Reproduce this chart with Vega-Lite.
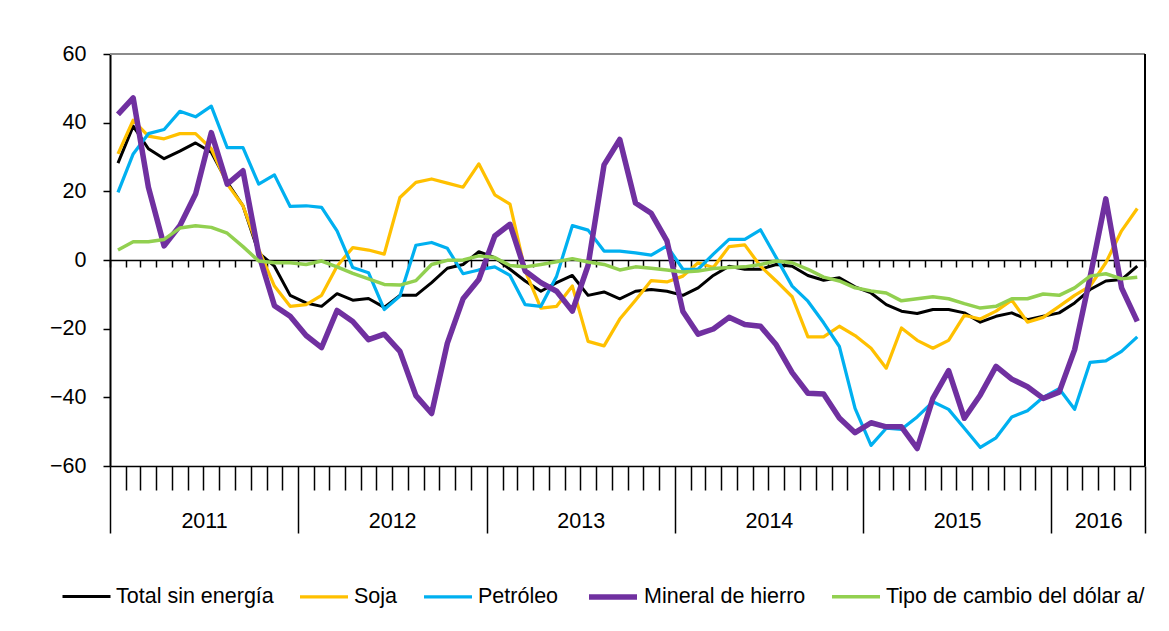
{
  "$schema": "https://vega.github.io/schema/vega-lite/v6.json",
  "width": 1035,
  "height": 412,
  "autosize": {"type": "none"},
  "padding": {"left": 110, "top": 54, "right": 24, "bottom": 165},
  "background": "white",
  "config": {
    "font": "Liberation Sans",
    "view": {"stroke": null},
    "axis": {"labelFont": "Liberation Sans", "labelFontSize": 21.5, "labelColor": "#000", "domainColor": "#000", "tickColor": "#000", "grid": false, "title": null}
  },
  "data": {
    "format": {"parse": {"fecha": "date:'%Y-%m'"}},
    "values": [
      {"fecha":"2011-01","serie":"Total sin energía","valor":28.2},{"fecha":"2011-02","serie":"Total sin energía","valor":39},{"fecha":"2011-03","serie":"Total sin energía","valor":32.4},{"fecha":"2011-04","serie":"Total sin energía","valor":29.5},{"fecha":"2011-05","serie":"Total sin energía","valor":31.7},{"fecha":"2011-06","serie":"Total sin energía","valor":34.1},{"fecha":"2011-07","serie":"Total sin energía","valor":31.4},{"fecha":"2011-08","serie":"Total sin energía","valor":22.6},{"fecha":"2011-09","serie":"Total sin energía","valor":15.8},{"fecha":"2011-10","serie":"Total sin energía","valor":2.1},{"fecha":"2011-11","serie":"Total sin energía","valor":-1.8},{"fecha":"2011-12","serie":"Total sin energía","valor":-10.3},
      {"fecha":"2012-01","serie":"Total sin energía","valor":-12.5},{"fecha":"2012-02","serie":"Total sin energía","valor":-13.5},{"fecha":"2012-03","serie":"Total sin energía","valor":-9.8},{"fecha":"2012-04","serie":"Total sin energía","valor":-11.7},{"fecha":"2012-05","serie":"Total sin energía","valor":-11.2},{"fecha":"2012-06","serie":"Total sin energía","valor":-13.8},{"fecha":"2012-07","serie":"Total sin energía","valor":-10.3},{"fecha":"2012-08","serie":"Total sin energía","valor":-10.3},{"fecha":"2012-09","serie":"Total sin energía","valor":-6.6},{"fecha":"2012-10","serie":"Total sin energía","valor":-2.4},{"fecha":"2012-11","serie":"Total sin energía","valor":-1.3},{"fecha":"2012-12","serie":"Total sin energía","valor":2.4},
      {"fecha":"2013-01","serie":"Total sin energía","valor":0.7},{"fecha":"2013-02","serie":"Total sin energía","valor":-2.7},{"fecha":"2013-03","serie":"Total sin energía","valor":-6.1},{"fecha":"2013-04","serie":"Total sin energía","valor":-9.1},{"fecha":"2013-05","serie":"Total sin energía","valor":-6.6},{"fecha":"2013-06","serie":"Total sin energía","valor":-4.5},{"fecha":"2013-07","serie":"Total sin energía","valor":-10.3},{"fecha":"2013-08","serie":"Total sin energía","valor":-9.3},{"fecha":"2013-09","serie":"Total sin energía","valor":-11.3},{"fecha":"2013-10","serie":"Total sin energía","valor":-9.1},{"fecha":"2013-11","serie":"Total sin energía","valor":-8.6},{"fecha":"2013-12","serie":"Total sin energía","valor":-9.1},
      {"fecha":"2014-01","serie":"Total sin energía","valor":-10.3},{"fecha":"2014-02","serie":"Total sin energía","valor":-8.1},{"fecha":"2014-03","serie":"Total sin energía","valor":-4.5},{"fecha":"2014-04","serie":"Total sin energía","valor":-1.8},{"fecha":"2014-05","serie":"Total sin energía","valor":-2.7},{"fecha":"2014-06","serie":"Total sin energía","valor":-2.7},{"fecha":"2014-07","serie":"Total sin energía","valor":-1.3},{"fecha":"2014-08","serie":"Total sin energía","valor":-1.8},{"fecha":"2014-09","serie":"Total sin energía","valor":-4.5},{"fecha":"2014-10","serie":"Total sin energía","valor":-5.9},{"fecha":"2014-11","serie":"Total sin energía","valor":-5.2},{"fecha":"2014-12","serie":"Total sin energía","valor":-7.8},
      {"fecha":"2015-01","serie":"Total sin energía","valor":-9.6},{"fecha":"2015-02","serie":"Total sin energía","valor":-13},{"fecha":"2015-03","serie":"Total sin energía","valor":-14.9},{"fecha":"2015-04","serie":"Total sin energía","valor":-15.6},{"fecha":"2015-05","serie":"Total sin energía","valor":-14.4},{"fecha":"2015-06","serie":"Total sin energía","valor":-14.4},{"fecha":"2015-07","serie":"Total sin energía","valor":-15.4},{"fecha":"2015-08","serie":"Total sin energía","valor":-18.1},{"fecha":"2015-09","serie":"Total sin energía","valor":-16.4},{"fecha":"2015-10","serie":"Total sin energía","valor":-15.4},{"fecha":"2015-11","serie":"Total sin energía","valor":-17.4},{"fecha":"2015-12","serie":"Total sin energía","valor":-16.4},
      {"fecha":"2016-01","serie":"Total sin energía","valor":-15.4},{"fecha":"2016-02","serie":"Total sin energía","valor":-12.5},{"fecha":"2016-03","serie":"Total sin energía","valor":-8.6},{"fecha":"2016-04","serie":"Total sin energía","valor":-6.1},{"fecha":"2016-05","serie":"Total sin energía","valor":-5.7},{"fecha":"2016-06","serie":"Total sin energía","valor":-1.8},

      {"fecha":"2011-01","serie":"Soja","valor":30.9},{"fecha":"2011-02","serie":"Soja","valor":40.7},{"fecha":"2011-03","serie":"Soja","valor":36.1},{"fecha":"2011-04","serie":"Soja","valor":35.3},{"fecha":"2011-05","serie":"Soja","valor":36.8},{"fecha":"2011-06","serie":"Soja","valor":36.8},{"fecha":"2011-07","serie":"Soja","valor":32.4},{"fecha":"2011-08","serie":"Soja","valor":22.1},{"fecha":"2011-09","serie":"Soja","valor":15.8},{"fecha":"2011-10","serie":"Soja","valor":3.1},{"fecha":"2011-11","serie":"Soja","valor":-7.6},{"fecha":"2011-12","serie":"Soja","valor":-13.5},
      {"fecha":"2012-01","serie":"Soja","valor":-13},{"fecha":"2012-02","serie":"Soja","valor":-10.3},{"fecha":"2012-03","serie":"Soja","valor":-1.8},{"fecha":"2012-04","serie":"Soja","valor":3.6},{"fecha":"2012-05","serie":"Soja","valor":2.9},{"fecha":"2012-06","serie":"Soja","valor":1.7},{"fecha":"2012-07","serie":"Soja","valor":18.2},{"fecha":"2012-08","serie":"Soja","valor":22.6},{"fecha":"2012-09","serie":"Soja","valor":23.6},{"fecha":"2012-10","serie":"Soja","valor":22.4},{"fecha":"2012-11","serie":"Soja","valor":21.2},{"fecha":"2012-12","serie":"Soja","valor":28},
      {"fecha":"2013-01","serie":"Soja","valor":19},{"fecha":"2013-02","serie":"Soja","valor":16.3},{"fecha":"2013-03","serie":"Soja","valor":-3.2},{"fecha":"2013-04","serie":"Soja","valor":-14},{"fecha":"2013-05","serie":"Soja","valor":-13.5},{"fecha":"2013-06","serie":"Soja","valor":-7.6},{"fecha":"2013-07","serie":"Soja","valor":-23.7},{"fecha":"2013-08","serie":"Soja","valor":-25},{"fecha":"2013-09","serie":"Soja","valor":-17.2},{"fecha":"2013-10","serie":"Soja","valor":-11.7},{"fecha":"2013-11","serie":"Soja","valor":-6},{"fecha":"2013-12","serie":"Soja","valor":-6.4},
      {"fecha":"2014-01","serie":"Soja","valor":-4.7},{"fecha":"2014-02","serie":"Soja","valor":-0.8},{"fecha":"2014-03","serie":"Soja","valor":-2.2},{"fecha":"2014-04","serie":"Soja","valor":3.9},{"fecha":"2014-05","serie":"Soja","valor":4.4},{"fecha":"2014-06","serie":"Soja","valor":-1.8},{"fecha":"2014-07","serie":"Soja","valor":-6.1},{"fecha":"2014-08","serie":"Soja","valor":-10.7},{"fecha":"2014-09","serie":"Soja","valor":-22.4},{"fecha":"2014-10","serie":"Soja","valor":-22.4},{"fecha":"2014-11","serie":"Soja","valor":-19.3},{"fecha":"2014-12","serie":"Soja","valor":-22},
      {"fecha":"2015-01","serie":"Soja","valor":-25.7},{"fecha":"2015-02","serie":"Soja","valor":-31.5},{"fecha":"2015-03","serie":"Soja","valor":-19.8},{"fecha":"2015-04","serie":"Soja","valor":-23.4},{"fecha":"2015-05","serie":"Soja","valor":-25.7},{"fecha":"2015-06","serie":"Soja","valor":-23.4},{"fecha":"2015-07","serie":"Soja","valor":-16.1},{"fecha":"2015-08","serie":"Soja","valor":-17.2},{"fecha":"2015-09","serie":"Soja","valor":-14.9},{"fecha":"2015-10","serie":"Soja","valor":-11.7},{"fecha":"2015-11","serie":"Soja","valor":-18.1},{"fecha":"2015-12","serie":"Soja","valor":-16.7},
      {"fecha":"2016-01","serie":"Soja","valor":-13.5},{"fecha":"2016-02","serie":"Soja","valor":-10.3},{"fecha":"2016-03","serie":"Soja","valor":-7.6},{"fecha":"2016-04","serie":"Soja","valor":-0.8},{"fecha":"2016-05","serie":"Soja","valor":8.5},{"fecha":"2016-06","serie":"Soja","valor":15},

      {"fecha":"2011-01","serie":"Petróleo","valor":19.7},{"fecha":"2011-02","serie":"Petróleo","valor":30.9},{"fecha":"2011-03","serie":"Petróleo","valor":36.8},{"fecha":"2011-04","serie":"Petróleo","valor":38},{"fecha":"2011-05","serie":"Petróleo","valor":43.3},{"fecha":"2011-06","serie":"Petróleo","valor":41.7},{"fecha":"2011-07","serie":"Petróleo","valor":44.8},{"fecha":"2011-08","serie":"Petróleo","valor":32.7},{"fecha":"2011-09","serie":"Petróleo","valor":32.7},{"fecha":"2011-10","serie":"Petróleo","valor":22.1},{"fecha":"2011-11","serie":"Petróleo","valor":24.8},{"fecha":"2011-12","serie":"Petróleo","valor":15.6},
      {"fecha":"2012-01","serie":"Petróleo","valor":15.8},{"fecha":"2012-02","serie":"Petróleo","valor":15.3},{"fecha":"2012-03","serie":"Petróleo","valor":8.5},{"fecha":"2012-04","serie":"Petróleo","valor":-2.2},{"fecha":"2012-05","serie":"Petróleo","valor":-3.7},{"fecha":"2012-06","serie":"Petróleo","valor":-14.4},{"fecha":"2012-07","serie":"Petróleo","valor":-10.5},{"fecha":"2012-08","serie":"Petróleo","valor":4.3},{"fecha":"2012-09","serie":"Petróleo","valor":5.1},{"fecha":"2012-10","serie":"Petróleo","valor":3.4},{"fecha":"2012-11","serie":"Petróleo","valor":-4},{"fecha":"2012-12","serie":"Petróleo","valor":-2.9},
      {"fecha":"2013-01","serie":"Petróleo","valor":-2},{"fecha":"2013-02","serie":"Petróleo","valor":-4.5},{"fecha":"2013-03","serie":"Petróleo","valor":-13},{"fecha":"2013-04","serie":"Petróleo","valor":-13.5},{"fecha":"2013-05","serie":"Petróleo","valor":-4.7},{"fecha":"2013-06","serie":"Petróleo","valor":10},{"fecha":"2013-07","serie":"Petróleo","valor":8.7},{"fecha":"2013-08","serie":"Petróleo","valor":2.6},{"fecha":"2013-09","serie":"Petróleo","valor":2.6},{"fecha":"2013-10","serie":"Petróleo","valor":2.1},{"fecha":"2013-11","serie":"Petróleo","valor":1.4},{"fecha":"2013-12","serie":"Petróleo","valor":4.1},
      {"fecha":"2014-01","serie":"Petróleo","valor":-2.7},{"fecha":"2014-02","serie":"Petróleo","valor":-2.7},{"fecha":"2014-03","serie":"Petróleo","valor":1.7},{"fecha":"2014-04","serie":"Petróleo","valor":6},{"fecha":"2014-05","serie":"Petróleo","valor":6},{"fecha":"2014-06","serie":"Petróleo","valor":8.8},{"fecha":"2014-07","serie":"Petróleo","valor":0.7},{"fecha":"2014-08","serie":"Petróleo","valor":-7.6},{"fecha":"2014-09","serie":"Petróleo","valor":-12},{"fecha":"2014-10","serie":"Petróleo","valor":-18.3},{"fecha":"2014-11","serie":"Petróleo","valor":-25.2},{"fecha":"2014-12","serie":"Petróleo","valor":-43.2},
      {"fecha":"2015-01","serie":"Petróleo","valor":-54},{"fecha":"2015-02","serie":"Petróleo","valor":-49},{"fecha":"2015-03","serie":"Petróleo","valor":-49.3},{"fecha":"2015-04","serie":"Petróleo","valor":-45.7},{"fecha":"2015-05","serie":"Petróleo","valor":-41.3},{"fecha":"2015-06","serie":"Petróleo","valor":-43.5},{"fecha":"2015-07","serie":"Petróleo","valor":-49},{"fecha":"2015-08","serie":"Petróleo","valor":-54.6},{"fecha":"2015-09","serie":"Petróleo","valor":-51.8},{"fecha":"2015-10","serie":"Petróleo","valor":-45.7},{"fecha":"2015-11","serie":"Petróleo","valor":-43.9},{"fecha":"2015-12","serie":"Petróleo","valor":-40},
      {"fecha":"2016-01","serie":"Petróleo","valor":-37.5},{"fecha":"2016-02","serie":"Petróleo","valor":-43.5},{"fecha":"2016-03","serie":"Petróleo","valor":-29.8},{"fecha":"2016-04","serie":"Petróleo","valor":-29.4},{"fecha":"2016-05","serie":"Petróleo","valor":-26.6},{"fecha":"2016-06","serie":"Petróleo","valor":-22.4},

      {"fecha":"2011-01","serie":"Mineral de hierro","valor":42.4},{"fecha":"2011-02","serie":"Mineral de hierro","valor":47.2},{"fecha":"2011-03","serie":"Mineral de hierro","valor":21.2},{"fecha":"2011-04","serie":"Mineral de hierro","valor":4.1},{"fecha":"2011-05","serie":"Mineral de hierro","valor":10},{"fecha":"2011-06","serie":"Mineral de hierro","valor":19.2},{"fecha":"2011-07","serie":"Mineral de hierro","valor":37.1},{"fecha":"2011-08","serie":"Mineral de hierro","valor":22.1},{"fecha":"2011-09","serie":"Mineral de hierro","valor":26},{"fecha":"2011-10","serie":"Mineral de hierro","valor":1.7},{"fecha":"2011-11","serie":"Mineral de hierro","valor":-13.3},{"fecha":"2011-12","serie":"Mineral de hierro","valor":-16.4},
      {"fecha":"2012-01","serie":"Mineral de hierro","valor":-22},{"fecha":"2012-02","serie":"Mineral de hierro","valor":-25.5},{"fecha":"2012-03","serie":"Mineral de hierro","valor":-14.7},{"fecha":"2012-04","serie":"Mineral de hierro","valor":-17.9},{"fecha":"2012-05","serie":"Mineral de hierro","valor":-23.2},{"fecha":"2012-06","serie":"Mineral de hierro","valor":-21.6},{"fecha":"2012-07","serie":"Mineral de hierro","valor":-26.6},{"fecha":"2012-08","serie":"Mineral de hierro","valor":-39.5},{"fecha":"2012-09","serie":"Mineral de hierro","valor":-44.7},{"fecha":"2012-10","serie":"Mineral de hierro","valor":-24.2},{"fecha":"2012-11","serie":"Mineral de hierro","valor":-11.3},{"fecha":"2012-12","serie":"Mineral de hierro","valor":-5.7},
      {"fecha":"2013-01","serie":"Mineral de hierro","valor":7},{"fecha":"2013-02","serie":"Mineral de hierro","valor":10.4},{"fecha":"2013-03","serie":"Mineral de hierro","valor":-3.2},{"fecha":"2013-04","serie":"Mineral de hierro","valor":-6.6},{"fecha":"2013-05","serie":"Mineral de hierro","valor":-9.1},{"fecha":"2013-06","serie":"Mineral de hierro","valor":-14.9},{"fecha":"2013-07","serie":"Mineral de hierro","valor":-1.6},{"fecha":"2013-08","serie":"Mineral de hierro","valor":27.7},{"fecha":"2013-09","serie":"Mineral de hierro","valor":35.1},{"fecha":"2013-10","serie":"Mineral de hierro","valor":16.6},{"fecha":"2013-11","serie":"Mineral de hierro","valor":13.6},{"fecha":"2013-12","serie":"Mineral de hierro","valor":5.6},
      {"fecha":"2014-01","serie":"Mineral de hierro","valor":-15},{"fecha":"2014-02","serie":"Mineral de hierro","valor":-21.6},{"fecha":"2014-03","serie":"Mineral de hierro","valor":-20.1},{"fecha":"2014-04","serie":"Mineral de hierro","valor":-16.7},{"fecha":"2014-05","serie":"Mineral de hierro","valor":-18.8},{"fecha":"2014-06","serie":"Mineral de hierro","valor":-19.3},{"fecha":"2014-07","serie":"Mineral de hierro","valor":-24.7},{"fecha":"2014-08","serie":"Mineral de hierro","valor":-32.8},{"fecha":"2014-09","serie":"Mineral de hierro","valor":-38.8},{"fecha":"2014-10","serie":"Mineral de hierro","valor":-39},{"fecha":"2014-11","serie":"Mineral de hierro","valor":-46},{"fecha":"2014-12","serie":"Mineral de hierro","valor":-50.3},
      {"fecha":"2015-01","serie":"Mineral de hierro","valor":-47.4},{"fecha":"2015-02","serie":"Mineral de hierro","valor":-48.6},{"fecha":"2015-03","serie":"Mineral de hierro","valor":-48.6},{"fecha":"2015-04","serie":"Mineral de hierro","valor":-54.9},{"fecha":"2015-05","serie":"Mineral de hierro","valor":-40.3},{"fecha":"2015-06","serie":"Mineral de hierro","valor":-32.2},{"fecha":"2015-07","serie":"Mineral de hierro","valor":-46.1},{"fecha":"2015-08","serie":"Mineral de hierro","valor":-39.3},{"fecha":"2015-09","serie":"Mineral de hierro","valor":-31},{"fecha":"2015-10","serie":"Mineral de hierro","valor":-34.7},{"fecha":"2015-11","serie":"Mineral de hierro","valor":-36.9},{"fecha":"2015-12","serie":"Mineral de hierro","valor":-40.3},
      {"fecha":"2016-01","serie":"Mineral de hierro","valor":-38.5},{"fecha":"2016-02","serie":"Mineral de hierro","valor":-26.1},{"fecha":"2016-03","serie":"Mineral de hierro","valor":-5},{"fecha":"2016-04","serie":"Mineral de hierro","valor":17.8},{"fecha":"2016-05","serie":"Mineral de hierro","valor":-8.1},{"fecha":"2016-06","serie":"Mineral de hierro","valor":-17.9},

      {"fecha":"2011-01","serie":"Tipo de cambio del dólar a/","valor":2.9},{"fecha":"2011-02","serie":"Tipo de cambio del dólar a/","valor":5.3},{"fecha":"2011-03","serie":"Tipo de cambio del dólar a/","valor":5.3},{"fecha":"2011-04","serie":"Tipo de cambio del dólar a/","valor":6},{"fecha":"2011-05","serie":"Tipo de cambio del dólar a/","valor":9.3},{"fecha":"2011-06","serie":"Tipo de cambio del dólar a/","valor":10},{"fecha":"2011-07","serie":"Tipo de cambio del dólar a/","valor":9.5},{"fecha":"2011-08","serie":"Tipo de cambio del dólar a/","valor":7.8},{"fecha":"2011-09","serie":"Tipo de cambio del dólar a/","valor":3.9},{"fecha":"2011-10","serie":"Tipo de cambio del dólar a/","valor":-0.3},{"fecha":"2011-11","serie":"Tipo de cambio del dólar a/","valor":-0.8},{"fecha":"2011-12","serie":"Tipo de cambio del dólar a/","valor":-0.8},
      {"fecha":"2012-01","serie":"Tipo de cambio del dólar a/","valor":-1.3},{"fecha":"2012-02","serie":"Tipo de cambio del dólar a/","valor":-0.3},{"fecha":"2012-03","serie":"Tipo de cambio del dólar a/","valor":-2},{"fecha":"2012-04","serie":"Tipo de cambio del dólar a/","valor":-3.9},{"fecha":"2012-05","serie":"Tipo de cambio del dólar a/","valor":-5.5},{"fecha":"2012-06","serie":"Tipo de cambio del dólar a/","valor":-7.1},{"fecha":"2012-07","serie":"Tipo de cambio del dólar a/","valor":-7.3},{"fecha":"2012-08","serie":"Tipo de cambio del dólar a/","valor":-6},{"fecha":"2012-09","serie":"Tipo de cambio del dólar a/","valor":-1.3},{"fecha":"2012-10","serie":"Tipo de cambio del dólar a/","valor":-0.1},{"fecha":"2012-11","serie":"Tipo de cambio del dólar a/","valor":0},{"fecha":"2012-12","serie":"Tipo de cambio del dólar a/","valor":1.2},
      {"fecha":"2013-01","serie":"Tipo de cambio del dólar a/","valor":0.7},{"fecha":"2013-02","serie":"Tipo de cambio del dólar a/","valor":-1.6},{"fecha":"2013-03","serie":"Tipo de cambio del dólar a/","valor":-2},{"fecha":"2013-04","serie":"Tipo de cambio del dólar a/","valor":-1.3},{"fecha":"2013-05","serie":"Tipo de cambio del dólar a/","valor":-0.5},{"fecha":"2013-06","serie":"Tipo de cambio del dólar a/","valor":0.4},{"fecha":"2013-07","serie":"Tipo de cambio del dólar a/","valor":-0.6},{"fecha":"2013-08","serie":"Tipo de cambio del dólar a/","valor":-1.3},{"fecha":"2013-09","serie":"Tipo de cambio del dólar a/","valor":-2.9},{"fecha":"2013-10","serie":"Tipo de cambio del dólar a/","valor":-2},{"fecha":"2013-11","serie":"Tipo de cambio del dólar a/","valor":-2.4},{"fecha":"2013-12","serie":"Tipo de cambio del dólar a/","valor":-2.9},
      {"fecha":"2014-01","serie":"Tipo de cambio del dólar a/","valor":-3.5},{"fecha":"2014-02","serie":"Tipo de cambio del dólar a/","valor":-3.2},{"fecha":"2014-03","serie":"Tipo de cambio del dólar a/","valor":-2.5},{"fecha":"2014-04","serie":"Tipo de cambio del dólar a/","valor":-2.2},{"fecha":"2014-05","serie":"Tipo de cambio del dólar a/","valor":-2},{"fecha":"2014-06","serie":"Tipo de cambio del dólar a/","valor":-1.3},{"fecha":"2014-07","serie":"Tipo de cambio del dólar a/","valor":-0.3},{"fecha":"2014-08","serie":"Tipo de cambio del dólar a/","valor":-0.8},{"fecha":"2014-09","serie":"Tipo de cambio del dólar a/","valor":-2.7},{"fecha":"2014-10","serie":"Tipo de cambio del dólar a/","valor":-5},{"fecha":"2014-11","serie":"Tipo de cambio del dólar a/","valor":-6.1},{"fecha":"2014-12","serie":"Tipo de cambio del dólar a/","valor":-8.1},
      {"fecha":"2015-01","serie":"Tipo de cambio del dólar a/","valor":-9},{"fecha":"2015-02","serie":"Tipo de cambio del dólar a/","valor":-9.6},{"fecha":"2015-03","serie":"Tipo de cambio del dólar a/","valor":-11.9},{"fecha":"2015-04","serie":"Tipo de cambio del dólar a/","valor":-11.3},{"fecha":"2015-05","serie":"Tipo de cambio del dólar a/","valor":-10.7},{"fecha":"2015-06","serie":"Tipo de cambio del dólar a/","valor":-11.3},{"fecha":"2015-07","serie":"Tipo de cambio del dólar a/","valor":-12.7},{"fecha":"2015-08","serie":"Tipo de cambio del dólar a/","valor":-14},{"fecha":"2015-09","serie":"Tipo de cambio del dólar a/","valor":-13.5},{"fecha":"2015-10","serie":"Tipo de cambio del dólar a/","valor":-11.3},{"fecha":"2015-11","serie":"Tipo de cambio del dólar a/","valor":-11.3},{"fecha":"2015-12","serie":"Tipo de cambio del dólar a/","valor":-9.9},
      {"fecha":"2016-01","serie":"Tipo de cambio del dólar a/","valor":-10.3},{"fecha":"2016-02","serie":"Tipo de cambio del dólar a/","valor":-8.1},{"fecha":"2016-03","serie":"Tipo de cambio del dólar a/","valor":-4.7},{"fecha":"2016-04","serie":"Tipo de cambio del dólar a/","valor":-4},{"fecha":"2016-05","serie":"Tipo de cambio del dólar a/","valor":-5.5},{"fecha":"2016-06","serie":"Tipo de cambio del dólar a/","valor":-5}
    ]
  },
  "resolve": {"axis": {"x": "independent", "y": "independent"}},
  "layer": [
    {
      "data": {"values": [{}]},
      "mark": {"type": "rule", "color": "#8c8c8c", "strokeWidth": 2},
      "encoding": {
        "y": {"datum": 60, "type": "quantitative", "scale": {"domain": [-60, 60], "nice": false, "zero": false}, "axis": null}
      }
    },
    {
      "data": {"values": [{}]},
      "mark": {"type": "rule", "color": "#000", "strokeWidth": 2},
      "encoding": {
        "x": {"datum": {"year": 2016, "month": 7, "date": 1}, "type": "temporal",
              "scale": {"domain": [{"year": 2011, "month": 1, "date": 1}, {"year": 2016, "month": 7, "date": 1}]},
              "axis": null}
      }
    },
    {
      "data": {"values": [{}]},
      "mark": {"type": "rule", "opacity": 0},
      "encoding": {
        "x": {"datum": {"year": 2011, "month": 1, "date": 1}, "type": "temporal",
              "scale": {"domain": [{"year": 2011, "month": 1, "date": 1}, {"year": 2016, "month": 7, "date": 1}]},
              "axis": {"orient": "bottom", "offset": -206, "tickCount": {"interval": "month", "step": 1},
                       "tickSize": 7, "tickWidth": 1.5, "domainWidth": 1.5, "labels": false, "title": null, "grid": false}}
      }
    },
    {
      "mark": {"type": "line", "strokeJoin": "round"},
      "encoding": {
        "x": {"field": "fecha", "timeUnit": "yearmonth", "type": "temporal", "bandPosition": 0.5,
              "scale": {"domain": [{"year": 2011, "month": 1, "date": 1}, {"year": 2016, "month": 7, "date": 1}]},
              "axis": {"orient": "bottom", "tickCount": {"interval": "month", "step": 1},
                       "tickSize": {"condition": {"test": "month(datum.value) == 0 || (year(datum.value) == 2016 && month(datum.value) == 6)", "value": 67}, "value": 24},
                       "tickWidth": 1.5, "domainWidth": 1.5,
                       "labelExpr": "month(datum.value) == 0 ? timeFormat(datum.value, '%Y') : ''",
                       "labelOffset": {"condition": {"test": "year(datum.value) == 2016", "value": 47}, "value": 94},
                       "labelPadding": -12, "labelBaseline": "middle", "labelAlign": "center",
                       "labelOverlap": false, "labelFlush": false, "labelBound": false, "title": null, "grid": false}},
        "y": {"field": "valor", "type": "quantitative",
              "scale": {"domain": [-60, 60], "nice": false, "zero": false},
              "axis": {"orient": "left", "values": [-60, -40, -20, 0, 20, 40, 60], "tickSize": 7, "tickWidth": 1.5, "labelPadding": 17, "domainWidth": 2, "title": null, "grid": false}},
        "color": {"field": "serie", "type": "nominal",
                  "scale": {"domain": ["Total sin energía", "Soja", "Petróleo", "Mineral de hierro", "Tipo de cambio del dólar a/"],
                            "range": ["#000000", "#FFC000", "#00B0F0", "#7030A0", "#92D050"]},
                  "legend": {"orient": "none", "legendX": -49, "legendY": 516, "direction": "horizontal", "title": null,
                             "symbolType": "stroke", "symbolSize": 2304, "labelFont": "Liberation Sans", "labelFontSize": 21.5,
                             "labelColor": "#000", "labelOffset": 4, "columnPadding": 19, "labelLimit": 0, "padding": 0}},
        "strokeWidth": {"field": "serie", "type": "nominal",
                        "scale": {"type": "ordinal", "domain": ["Total sin energía", "Soja", "Petróleo", "Mineral de hierro", "Tipo de cambio del dólar a/"],
                                  "range": [3, 3.25, 3.25, 5.5, 3.5]},
                        "legend": {"title": null}}
      }
    }
  ]
}
